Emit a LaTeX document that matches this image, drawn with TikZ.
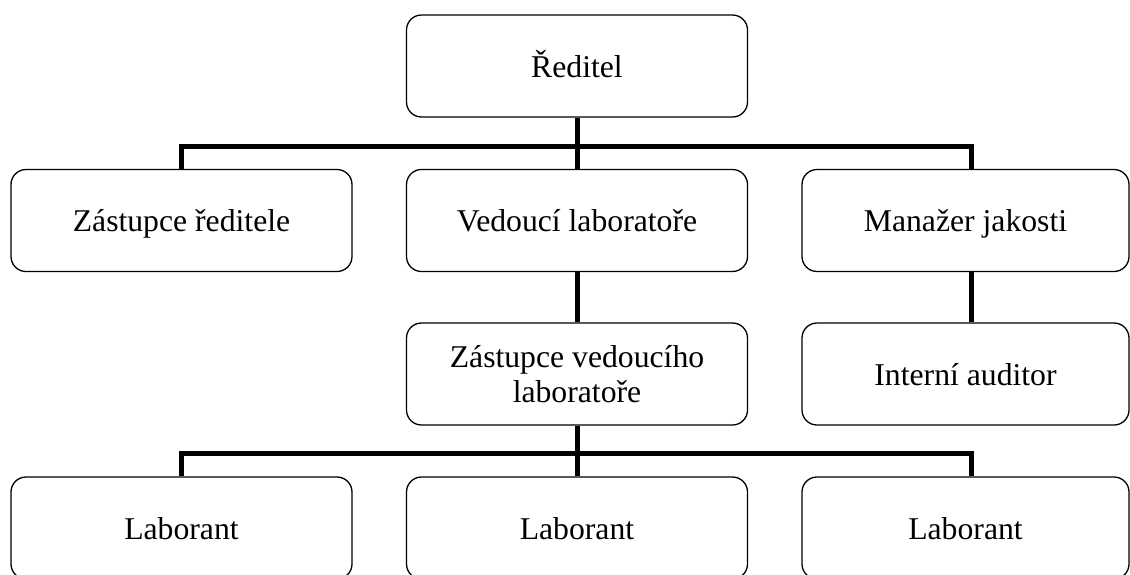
\documentclass[tikz,border=0pt]{standalone}
\usepackage{fontspec}
\setmainfont{Liberation Serif}
\begin{document}
\begin{tikzpicture}[x=1pt,y=-1pt,
  orgbox/.style={draw, line width=1.3pt, rounded corners=15pt,
    minimum width=341pt, minimum height=102pt, inner sep=0pt,
    text height=28pt, text depth=6pt,
    align=center, font=\fontsize{31.7}{35}\selectfont},
  link/.style={line width=5pt}]
\useasboundingbox (0,0) rectangle (1130,574);
\clip (0,0) rectangle (1130,574);

% top level
\node[orgbox] (red) at (577,66) {Ředitel};

% second level
\node[orgbox] (zr) at (181.5,220.5) {Zástupce ředitele};
\node[orgbox] (vl) at (577,220.5) {Vedoucí laboratoře};
\node[orgbox, minimum width=327pt] (mj) at (965.5,220.5) {Manažer jakosti};

% third level
\node[orgbox, text height=, text depth=] (zvl) at (577,374) {Zástupce vedoucího\\laboratoře};
\node[orgbox, minimum width=327pt] (ia) at (965.5,374) {Interní auditor};

% laboratory staff
\node[orgbox] (l1) at (181.5,528) {Laborant};
\node[orgbox] (l2) at (577,528) {Laborant};
\node[orgbox, minimum width=327pt] (l3) at (965.5,528) {Laborant};

% connector junctions
\coordinate (bar1) at (577,146);
\coordinate (bar2) at (577,453);
\coordinate (mjtop) at ([xshift=5.5pt]mj.north);
\coordinate (mjbot) at ([xshift=5.5pt]mj.south);
\coordinate (iatop) at ([xshift=5.5pt]ia.north);
\coordinate (l3top) at ([xshift=5.5pt]l3.north);

% connectors
\draw[link] (red.south) -- (vl.north);
\draw[link] (zr.north) |- (bar1) -| (mjtop);
\draw[link] (vl.south) -- (zvl.north);
\draw[link] (mjbot) -- (iatop);
\draw[link] (zvl.south) -- (l2.north);
\draw[link] (l1.north) |- (bar2) -| (l3top);
\end{tikzpicture}
\end{document}
